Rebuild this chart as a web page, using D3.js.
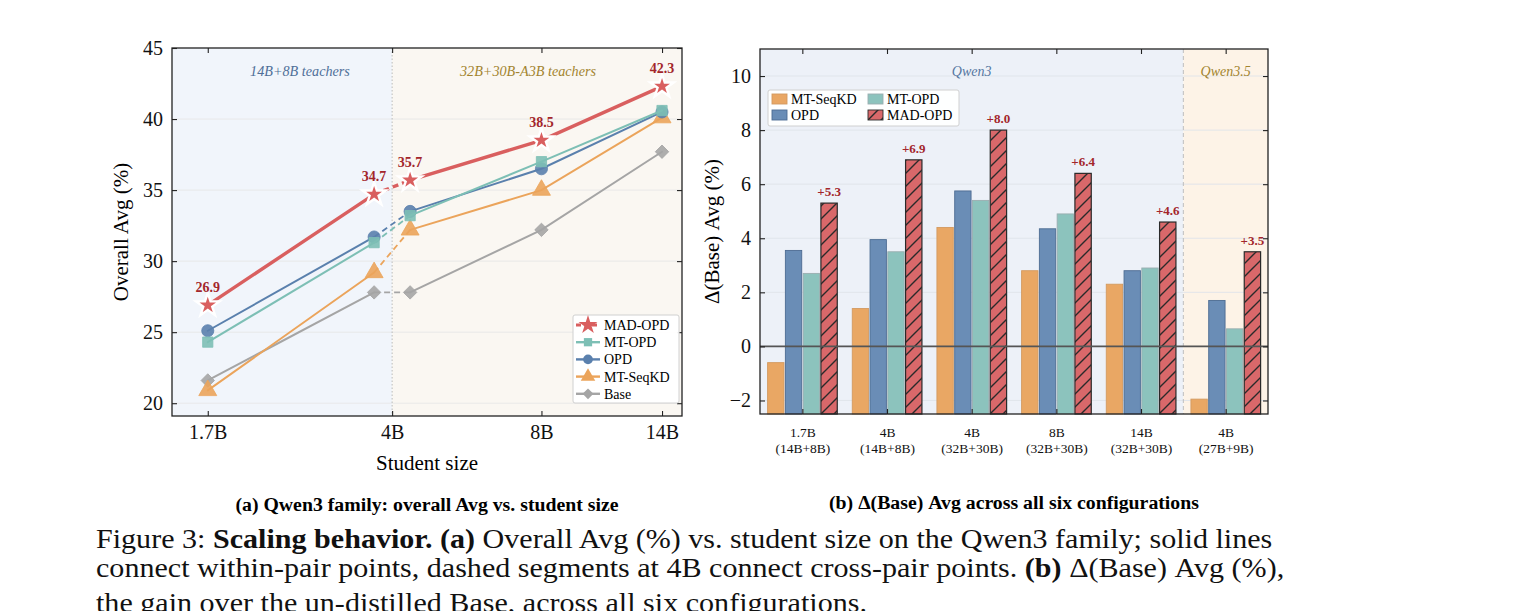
<!DOCTYPE html>
<html>
<head>
<meta charset="utf-8">
<script src="https://cdn.jsdelivr.net/npm/d3@7.9.0/dist/d3.min.js"></script>
<style>
  body { margin: 0; background: #fff; }
  svg text { font-family: "Liberation Serif", "Times New Roman", serif; }
</style>
</head>
<body>
<script>
// ---------- data: (a) overall Avg vs student size ----------
// two 4B points: left one from the 14B+8B pair, right one from the 32B+30B-A3B pair
const sizes = [1.7, 4, 4, 8, 14];
const sizeTicks = [1.7, 4, 8, 14];
const sizeLabels = ['1.7B', '4B', '8B', '14B'];
const madOpd = [26.9, 34.7, 35.7, 38.5, 42.3];
const mtOpd = [24.3, 31.3, 33.2, 37.0, 40.6];
const opd = [25.1, 31.7, 33.5, 36.5, 40.5];
const mtSeqKD = [20.9, 29.2, 32.2, 35.0, 40.1];
const base = [21.6, 27.8, 27.8, 32.2, 37.7];
const avgTicks = [20, 25, 30, 35, 40, 45];

// ---------- data: (b) delta over Base ----------
const configs = ['1.7B|(14B+8B)', '4B|(14B+8B)', '4B|(32B+30B)', '8B|(32B+30B)', '14B|(32B+30B)', '4B|(27B+9B)'];
const barSeries = ['MT-SeqKD', 'OPD', 'MT-OPD', 'MAD-OPD'];
const dSeqKD = [-0.6, 1.4, 4.4, 2.8, 2.3, -1.95];
const dOpd = [3.55, 3.95, 5.75, 4.35, 2.8, 1.7];
const dMtOpd = [2.7, 3.5, 5.4, 4.9, 2.9, 0.65];
const dMad = [5.3, 6.9, 8.0, 6.4, 4.6, 3.5];
const deltaTicks = [-2, 0, 2, 4, 6, 8, 10];

const W = 1529, H = 611;
const svg = d3.select('body').append('svg').attr('width', W).attr('height', H);
const defs = svg.append('defs');

const RED = '#d95f5f', TEAL = '#7dbfb5', BLUE = '#5a80ad', ORANGE = '#eba45b', GRAY = '#a5a5a5';
const LABEL_RED = '#a3262b';

function frameAxes(g, box, xs, xt, ys, yt, labelX, labelY) {
  // inward ticks on all four sides
  const axB = d3.axisBottom(xs).tickValues(xt).tickSize(-5).tickPadding(9).tickFormat(labelX);
  const axT = d3.axisTop(xs).tickValues(xt).tickSize(-5).tickFormat('');
  const axL = d3.axisLeft(ys).tickValues(yt).tickSize(-5).tickPadding(9).tickFormat(labelY);
  const axR = d3.axisRight(ys).tickValues(yt).tickSize(-5).tickFormat('');
  const gb = g.append('g').attr('transform', `translate(0,${box.y1})`).call(axB);
  const gt = g.append('g').attr('transform', `translate(0,${box.y0})`).call(axT);
  const gl = g.append('g').attr('transform', `translate(${box.x0},0)`).call(axL);
  const gr = g.append('g').attr('transform', `translate(${box.x1},0)`).call(axR);
  [gb, gt, gl, gr].forEach(a => {
    a.select('.domain').remove();
    a.selectAll('line').attr('stroke', '#222').attr('stroke-width', 1.1);
    a.selectAll('text').attr('font-family', '"Liberation Serif", serif').attr('font-size', 20).attr('fill', '#111');
  });
  g.append('rect').attr('x', box.x0).attr('y', box.y0)
    .attr('width', box.x1 - box.x0).attr('height', box.y1 - box.y0)
    .attr('fill', 'none').attr('stroke', '#222').attr('stroke-width', 1.3);
  return { gb, gl };
}

// ================= (a) line chart =================
{
  const box = { x0: 172, x1: 682, y0: 48, y1: 416 };
  const g = svg.append('g');
  const x = d3.scaleLog().domain([1.44, 15.36]).range([box.x0, box.x1]);
  const y = d3.scaleLinear().domain([19.1, 45]).range([box.y1, box.y0]);
  const pairShift = [0, -18, 18, 0, 0];
  const px = i => x(sizes[i]) + pairShift[i];

  // teacher-pair regions
  g.append('rect').attr('x', box.x0).attr('y', box.y0).attr('width', x(4) - box.x0)
    .attr('height', box.y1 - box.y0).attr('fill', '#f1f5fb');
  g.append('rect').attr('x', x(4)).attr('y', box.y0).attr('width', box.x1 - x(4))
    .attr('height', box.y1 - box.y0).attr('fill', '#faf7f2');
  g.selectAll('.grid').data(avgTicks.slice(0, -1)).join('line')
    .attr('x1', box.x0).attr('x2', box.x1).attr('y1', d => y(d)).attr('y2', d => y(d))
    .attr('stroke', '#e6e6e6').attr('stroke-width', 0.9);
  g.append('line').attr('x1', x(4)).attr('x2', x(4)).attr('y1', box.y0).attr('y2', box.y1)
    .attr('stroke', '#bbb').attr('stroke-width', 1).attr('stroke-dasharray', '1.5,2');

  g.append('text').attr('x', 300).attr('y', 76).attr('text-anchor', 'middle')
    .attr('font-style', 'italic').attr('font-size', 14.2).attr('fill', '#4f6f98').text('14B+8B teachers');
  g.append('text').attr('x', 528).attr('y', 76).attr('text-anchor', 'middle')
    .attr('font-style', 'italic').attr('font-size', 14.2).attr('fill', '#a2842f').text('32B+30B-A3B teachers');

  const series = [
    { name: 'Base', vals: base, color: GRAY, sym: d3.symbolSquare, size: 90, rot: 45, w: 2 },
    { name: 'MT-SeqKD', vals: mtSeqKD, color: ORANGE, sym: d3.symbolTriangle, size: 140, rot: 0, w: 2 },
    { name: 'OPD', vals: opd, color: BLUE, sym: d3.symbolCircle, size: 115, rot: 0, w: 2 },
    { name: 'MT-OPD', vals: mtOpd, color: TEAL, sym: d3.symbolSquare, size: 105, rot: 0, w: 2 },
    { name: 'MAD-OPD', vals: madOpd, color: RED, sym: d3.symbolStar, size: 170, rot: 0, w: 3.4 },
  ];

  series.forEach(s => {
    const ln = d3.line().x(i => px(i)).y(i => y(s.vals[i]));
    [[0, 1], [2, 3, 4]].forEach(seg => {
      g.append('path').attr('d', ln(seg)).attr('fill', 'none')
        .attr('stroke', s.color).attr('stroke-width', s.w).attr('stroke-linecap', 'round');
    });
    g.append('path').attr('d', ln([1, 2])).attr('fill', 'none')
      .attr('stroke', s.color).attr('stroke-width', s.w === 2 ? 1.8 : s.w).attr('stroke-dasharray', '6,4');
    const star = s.name === 'MAD-OPD';
    g.selectAll(null).data(d3.range(sizes.length)).join('path')
      .attr('d', d3.symbol().type(s.sym).size(s.size))
      .attr('transform', i => `translate(${px(i)},${y(s.vals[i])}) rotate(${s.rot})`)
      .attr('fill', s.color).attr('fill-opacity', star ? 1 : 0.9)
      .attr('stroke', star ? '#fff' : s.color).attr('stroke-width', star ? 2.4 : 0.8);
    if (star) {
      g.selectAll(null).data(d3.range(sizes.length)).join('text')
        .attr('x', i => px(i)).attr('y', i => y(s.vals[i]) - 13)
        .attr('text-anchor', 'middle').attr('font-weight', 'bold').attr('font-size', 14)
        .attr('fill', LABEL_RED).text(i => s.vals[i].toFixed(1));
    }
  });

  frameAxes(g, box, x, sizeTicks, y, avgTicks, (d, i) => sizeLabels[i], d3.format('d'));

  g.append('text').attr('x', (box.x0 + box.x1) / 2).attr('y', 470).attr('text-anchor', 'middle')
    .attr('font-size', 21).text('Student size');
  g.append('text').attr('transform', `translate(128,${(box.y0 + box.y1) / 2}) rotate(-90)`)
    .attr('text-anchor', 'middle').attr('font-size', 21).text('Overall Avg (%)');

  // legend
  const lg = g.append('g').attr('transform', 'translate(573,315)');
  lg.append('rect').attr('width', 106).attr('height', 88).attr('rx', 2)
    .attr('fill', '#fff').attr('fill-opacity', 0.95).attr('stroke', '#d0d0d0');
  series.slice().reverse().forEach((s, k) => {
    const ly = 10 + k * 17.2;
    lg.append('line').attr('x1', 3).attr('x2', 27).attr('y1', ly).attr('y2', ly)
      .attr('stroke', s.color).attr('stroke-width', s.w === 2 ? 2.4 : 3)
      .attr('stroke-dasharray', s.name === 'MAD-OPD' ? '5,3' : null);
    lg.append('path').attr('d', d3.symbol().type(s.sym).size(s.size * 0.65))
      .attr('transform', `translate(15,${ly}) rotate(${s.rot})`).attr('fill', s.color);
    lg.append('text').attr('x', 31).attr('y', ly).attr('dy', '0.35em')
      .attr('font-size', 14).text(s.name);
  });

  svg.append('text').attr('x', 427).attr('y', 511).attr('text-anchor', 'middle')
    .attr('font-weight', 'bold').attr('font-size', 19.8).text('(a) Qwen3 family: overall Avg vs. student size');
}

// ================= (b) grouped bars =================
{
  const box = { x0: 760, x1: 1268, y0: 49, y1: 414 };
  const g = svg.append('g');
  const x0 = d3.scaleBand().domain(configs).range([box.x0, box.x1]);
  const x1 = d3.scaleBand().domain(barSeries).range([7.6, x0.bandwidth() - 7.4]).paddingInner(0.08);
  const y = d3.scaleLinear().domain([-2.5, 11]).range([box.y1, box.y0]);
  const split = x0(configs[5]);

  g.append('rect').attr('x', box.x0).attr('y', box.y0).attr('width', split - box.x0)
    .attr('height', box.y1 - box.y0).attr('fill', '#edf1f8');
  g.append('rect').attr('x', split).attr('y', box.y0).attr('width', box.x1 - split)
    .attr('height', box.y1 - box.y0).attr('fill', '#fdf3e7');
  g.selectAll('.grid').data(deltaTicks.filter(d => d !== 0)).join('line')
    .attr('x1', box.x0).attr('x2', box.x1).attr('y1', d => y(d)).attr('y2', d => y(d))
    .attr('stroke', '#dfe3ea').attr('stroke-width', 0.9);
  g.append('line').attr('x1', split).attr('x2', split).attr('y1', box.y0).attr('y2', box.y1)
    .attr('stroke', '#bdbdbd').attr('stroke-width', 1).attr('stroke-dasharray', '4,3');

  g.append('text').attr('x', (box.x0 + split) / 2).attr('y', 76).attr('text-anchor', 'middle')
    .attr('font-style', 'italic').attr('font-size', 14).attr('fill', '#5577a1').text('Qwen3');
  g.append('text').attr('x', (split + box.x1) / 2).attr('y', 76).attr('text-anchor', 'middle')
    .attr('font-style', 'italic').attr('font-size', 14).attr('fill', '#a2842f').text('Qwen3.5');

  const pat = defs.append('pattern').attr('id', 'hatch').attr('patternUnits', 'userSpaceOnUse')
    .attr('width', 13).attr('height', 13);
  pat.append('rect').attr('width', 13).attr('height', 13).attr('fill', '#d9686a');
  pat.append('path').attr('d', 'M0,13 L13,0 M-3,3 L3,-3 M10,16 L16,10')
    .attr('stroke', '#2a2a2a').attr('stroke-width', 1.4);

  const barStyle = {
    'MT-SeqKD': { fill: '#e9a764', edge: '#d39a60', vals: dSeqKD },
    'OPD': { fill: '#6a8db6', edge: '#4d6c92', vals: dOpd },
    'MT-OPD': { fill: '#8cc3bd', edge: '#9aaeb0', vals: dMtOpd },
    'MAD-OPD': { fill: 'url(#hatch)', edge: '#2a2a2a', vals: dMad },
  };

  barSeries.forEach(s => {
    const st = barStyle[s];
    g.selectAll(null).data(configs).join('rect')
      .attr('x', (c) => x0(c) + x1(s))
      .attr('width', x1.bandwidth())
      .attr('y', (c, i) => y(st.vals[i]))
      .attr('height', (c, i) => box.y1 - y(st.vals[i]))
      .attr('fill', st.fill).attr('stroke', st.edge).attr('stroke-width', s === 'MAD-OPD' ? 1.2 : 0.9);
  });
  g.selectAll(null).data(configs).join('text')
    .attr('x', c => x0(c) + x1('MAD-OPD') + x1.bandwidth() / 2)
    .attr('y', (c, i) => y(dMad[i]) - 7)
    .attr('text-anchor', 'middle').attr('font-weight', 'bold').attr('font-size', 13)
    .attr('fill', LABEL_RED).text((c, i) => '+' + dMad[i].toFixed(1));

  g.append('line').attr('x1', box.x0).attr('x2', box.x1).attr('y1', y(0)).attr('y2', y(0))
    .attr('stroke', '#555').attr('stroke-width', 1.6);

  const pos = d3.scalePoint().domain(configs).range([x0(configs[0]) + x0.bandwidth() / 2, x0(configs[5]) + x0.bandwidth() / 2]);
  const { gb } = frameAxes(g, box, pos, configs, y, deltaTicks, d => d, d => d < 0 ? '\u2212' + Math.abs(d) : d);
  gb.selectAll('text').remove();
  gb.selectAll('.tick').append('text').attr('y', 23).attr('text-anchor', 'middle')
    .attr('font-size', 13.5).attr('fill', '#111')
    .selectAll('tspan').data(d => d.split('|')).join('tspan')
    .attr('x', 0).attr('dy', (d, i) => i ? 16 : 0).text(d => d);

  g.append('text').attr('transform', `translate(719,${(box.y0 + box.y1) / 2}) rotate(-90)`)
    .attr('text-anchor', 'middle').attr('font-size', 21).text('\u0394(Base) Avg (%)');

  // legend, two columns filled column-first
  const lg = g.append('g').attr('transform', 'translate(768,90)');
  lg.append('rect').attr('width', 191).attr('height', 36).attr('rx', 2)
    .attr('fill', '#fff').attr('fill-opacity', 0.95).attr('stroke', '#d0d0d0');
  barSeries.forEach((s, k) => {
    const cx = 4 + Math.floor(k / 2) * 96, cy = 9 + (k % 2) * 16;
    const st = barStyle[s];
    lg.append('rect').attr('x', cx).attr('y', cy - 5).attr('width', 15).attr('height', 10)
      .attr('fill', st.fill).attr('stroke', st.edge).attr('stroke-width', 0.9);
    lg.append('text').attr('x', cx + 19).attr('y', cy).attr('dy', '0.35em')
      .attr('font-size', 14).text(s);
  });

  svg.append('text').attr('x', 1014).attr('y', 509).attr('text-anchor', 'middle')
    .attr('font-weight', 'bold').attr('font-size', 19.8).text('(b) \u0394(Base) Avg across all six configurations');
}

// ================= figure caption =================
const captionLines = [
  [['Figure 3: ', 0], ['Scaling behavior.', 1], [' ', 0], ['(a)', 1], [' Overall Avg (%) vs. student size on the Qwen3 family; solid lines', 0]],
  [['connect within-pair points, dashed segments at 4B connect cross-pair points. ', 0], ['(b)', 1], [' \u0394(Base) Avg (%),', 0]],
  [['the gain over the un-distilled Base, across all six configurations.', 0]],
];
const captionBase = [548, 577, 612];
captionLines.forEach((parts, k) => {
  const t = svg.append('text')
    .attr('transform', `translate(96,${captionBase[k]}) scale(1.075,1)`)
    .attr('font-size', 28).attr('fill', '#111');
  parts.forEach(([txt, b]) => t.append('tspan').attr('font-weight', b ? 'bold' : null).text(txt));
});
</script>
</body>
</html>
